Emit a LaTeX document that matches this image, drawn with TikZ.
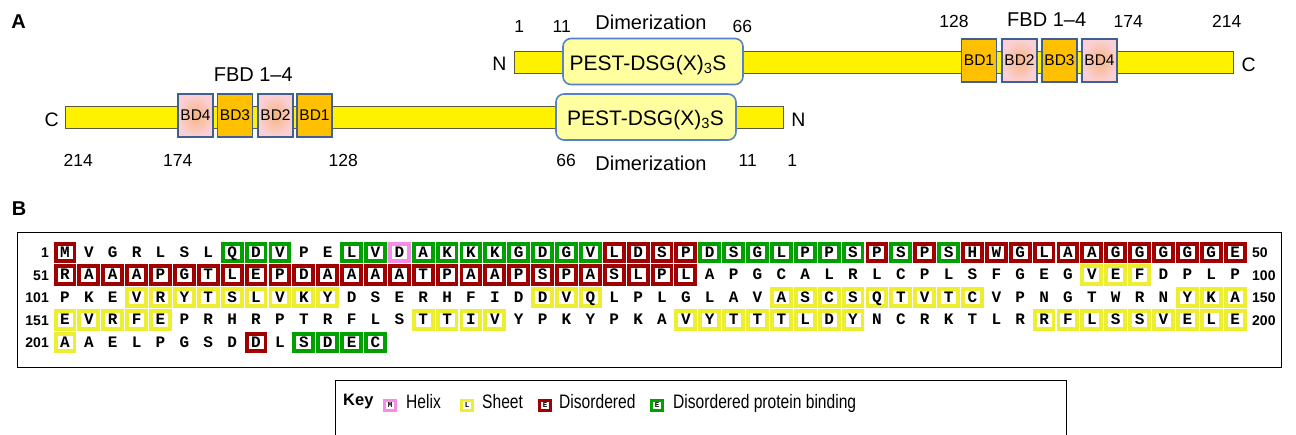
\documentclass[tikz,border=0pt]{standalone}
\usepackage{fontspec}
\setmainfont{Liberation Sans}
\newfontfamily\seqfont{Liberation Mono}
\newfontfamily\narrowfont[FakeStretch=0.8]{Liberation Sans}
\definecolor{cr}{RGB}{160,0,0}
\definecolor{cg}{RGB}{0,160,0}
\definecolor{cy}{RGB}{238,238,48}
\definecolor{cp}{RGB}{246,140,232}
\definecolor{pestblue}{RGB}{85,130,200}
\definecolor{pestfill}{RGB}{255,255,160}
\definecolor{bdblue}{RGB}{65,95,145}
\definecolor{bdorange}{RGB}{255,192,0}
\definecolor{bdpinkin}{RGB}{248,180,130}
\definecolor{bdpinkout}{RGB}{250,208,214}
\definecolor{barline}{RGB}{90,90,60}
\tikzset{
  lbl/.style={inner sep=0pt, anchor=base, font=\fontsize{20}{24}\selectfont},
  num/.style={inner sep=0pt, anchor=base, font=\fontsize{17.5}{20}\selectfont},
  term/.style={inner sep=0pt, anchor=base, font=\fontsize{19.5}{22}\selectfont},
  panel/.style={inner sep=0pt, anchor=base, font=\bfseries\fontsize{20}{24}\selectfont},
  bar/.style={draw=barline, line width=0.8pt, fill=yellow, minimum height=22pt, inner sep=0pt, anchor=west},
  pest/.style={draw=pestblue, line width=1.6pt, fill=pestfill, rounded corners=8pt, minimum width=180pt, minimum height=46pt, inner sep=0pt},
  pesttxt/.style={inner sep=0pt, anchor=base, font=\fontsize{21}{24}\selectfont},
  bdo/.style={draw=bdblue, line width=1.5pt, fill=bdorange, minimum width=35pt, minimum height=43pt, inner sep=0pt, font=\fontsize{15.5}{18}\selectfont},
  bdp/.style={bdo, inner color=bdpinkin, outer color=bdpinkout},
  res/.style={inner sep=0pt, minimum width=18.9pt, minimum height=17.6pt, text height=9.1pt, text depth=0pt, font=\seqfont\bfseries\fontsize{16}{16}\selectfont},
  resn/.style={res},
  resr/.style={res, draw=cr, line width=3.9pt, fill=white},
  resg/.style={res, draw=cg, line width=3.9pt, fill=white},
  resy/.style={res, draw=cy, line width=3.9pt, fill=white},
  resp/.style={res, draw=cp, line width=3.9pt, fill=white},
  rownum/.style={inner sep=0pt, text height=10pt, text depth=0pt, font=\bfseries\fontsize{14}{14}\selectfont},
  keyicon/.style={inner sep=0pt, minimum size=10.5pt, line width=3pt, fill=white, text height=4.5pt, text depth=0pt, font=\seqfont\bfseries\fontsize{7.5}{7.5}\selectfont},
  keytxt/.style={inner sep=0pt, anchor=base west, font=\narrowfont\fontsize{19.5}{21}\selectfont},
}
\begin{document}
\begin{tikzpicture}[x=1pt, y=-1pt]
\useasboundingbox (0,0) rectangle (1296,434);
% ---------------- Panel A ----------------
\node[panel] (labA) at (18.7,28) {A};
% upper chain N -> C
\node[bar, minimum width=719pt] (barU) at (514,62) {};
\node[pest] (pestU) at (653,61.5) {};
\node[pesttxt] (pestUt) at (648,70.5) {PEST-DSG(X)\textsubscript{3}S};
\node[bdo] (bd1U) at (979,60.5) {BD1};
\node[bdp] (bd2U) at (1019.5,60.5) {BD2};
\node[bdo] (bd3U) at (1059.5,60.5) {BD3};
\node[bdp] (bd4U) at (1099.5,60.5) {BD4};
\node[term] (nU) at (499.3,70) {N};
\node[term] (cU) at (1248.7,71) {C};
\node[num] (u1) at (519.3,32) {1};
\node[num] (u11) at (561.7,32) {11};
\node[lbl] (dimU) at (651,29) {Dimerization};
\node[num] (u66) at (742.3,32) {66};
\node[num] (u128) at (954,27) {128};
\node[lbl] (fbdU) at (1046.7,26) {FBD 1--4};
\node[num] (u174) at (1128.3,27) {174};
\node[num] (u214) at (1226.7,27) {214};
% lower chain C <- N
\node[bar, minimum width=718pt] (barL) at (65,117.5) {};
\node[pest] (pestL) at (646,117) {};
\node[pesttxt] (pestLt) at (645.5,125) {PEST-DSG(X)\textsubscript{3}S};
\node[bdp] (bd4L) at (195.5,115.5) {BD4};
\node[bdo] (bd3L) at (235,115.5) {BD3};
\node[bdp] (bd2L) at (275.5,115.5) {BD2};
\node[bdo] (bd1L) at (314.5,115.5) {BD1};
\node[term] (cL) at (51.7,126.7) {C};
\node[term] (nL) at (798.3,126) {N};
\node[lbl] (fbdL) at (253.3,81.7) {FBD 1--4};
\node[num] (l214) at (78.3,166.7) {214};
\node[num] (l174) at (177.7,166.7) {174};
\node[num] (l128) at (343.3,166.7) {128};
\node[num] (l66) at (566,166.7) {66};
\node[lbl] (dimL) at (651,170) {Dimerization};
\node[num] (l11) at (747.7,166.7) {11};
\node[num] (l1) at (792.3,166.7) {1};
% ---------------- Panel B ----------------
\node[panel] (labB) at (19,215) {B};
\node[draw, line width=1.2pt, anchor=north west, minimum width=1264pt, minimum height=135pt, inner sep=0pt] (seqbox) at (17,232) {};
% row 1
\foreach \ch/\c [count=\i from 0] in {M/r,V/n,G/n,R/n,L/n,S/n,L/n,Q/g,D/g,V/g,P/n,E/n,L/g,V/g,D/p,A/g,K/g,K/g,K/g,G/g,D/g,G/g,V/g,L/r,D/r,S/r,P/r,D/g,S/g,G/g,L/g,P/g,P/g,S/g,P/r,S/g,P/r,S/g,H/r,W/r,G/r,L/r,A/r,A/r,G/r,G/r,G/r,G/r,G/r,E/r}
  \node[res\c] (sa\i) at ({65+\i*23.88},252.5) {\ch};
% row 2
\foreach \ch/\c [count=\i from 0] in {R/r,A/r,A/r,A/r,P/r,G/r,T/r,L/r,E/r,P/r,D/r,A/r,A/r,A/r,A/r,T/r,P/r,A/r,A/r,P/r,S/r,P/r,A/r,S/r,L/r,P/r,L/r,A/n,P/n,G/n,C/n,A/n,L/n,R/n,L/n,C/n,P/n,L/n,S/n,F/n,G/n,E/n,G/n,V/y,E/y,F/y,D/n,P/n,L/n,P/n}
  \node[res\c] (sb\i) at ({65+\i*23.88},275) {\ch};
% row 3
\foreach \ch/\c [count=\i from 0] in {P/n,K/n,E/n,V/y,R/y,Y/y,T/y,S/y,L/y,V/y,K/y,Y/y,D/n,S/n,E/n,R/n,H/n,F/n,I/n,D/n,D/y,V/y,Q/y,L/n,P/n,L/n,G/n,L/n,A/n,V/n,A/y,S/y,C/y,S/y,Q/y,T/y,V/y,T/y,C/y,V/n,P/n,N/n,G/n,T/n,W/n,R/n,N/n,Y/y,K/y,A/y}
  \node[res\c] (sc\i) at ({65+\i*23.88},297.5) {\ch};
% row 4
\foreach \ch/\c [count=\i from 0] in {E/y,V/y,R/y,F/y,E/y,P/n,R/n,H/n,R/n,P/n,T/n,R/n,F/n,L/n,S/n,T/y,T/y,I/y,V/y,Y/n,P/n,K/n,Y/n,P/n,K/n,A/n,V/y,Y/y,T/y,T/y,T/y,L/y,D/y,Y/y,N/n,C/n,R/n,K/n,T/n,L/n,R/n,R/y,F/y,L/y,S/y,S/y,V/y,E/y,L/y,E/y}
  \node[res\c] (sd\i) at ({65+\i*23.88},320) {\ch};
% row 5
\foreach \ch/\c [count=\i from 0] in {A/y,A/n,E/n,L/n,P/n,G/n,S/n,D/n,D/r,L/n,S/g,D/g,E/g,C/g}
  \node[res\c] (se\i) at ({65+\i*23.88},342.5) {\ch};
% row numbers
\foreach \n/\yy [count=\k] in {1/252.5,51/275,101/297.5,151/320,201/342.5}
  \node[rownum, anchor=east] (rl\k) at (49,\yy) {\n};
\foreach \n/\yy [count=\k] in {50/252.5,100/275,150/297.5,200/320}
  \node[rownum, anchor=west] (rr\k) at (1252,\yy) {\n};
% ---------------- Key ----------------
\node[draw, line width=1.2pt, anchor=north west, minimum width=731pt, minimum height=70pt, inner sep=0pt] (keybox) at (335,380) {};
\node[inner sep=0pt, anchor=base west, font=\bfseries\fontsize{16.5}{18}\selectfont] (keyt) at (343,405) {Key};
\node[keyicon, draw=cp] (kh) at (390,405.5) {M};
\node[keytxt] (kht) at (406,408.3) {Helix};
\node[keyicon, draw=cy] (ks) at (467,405.5) {L};
\node[keytxt] (kst) at (482,408.3) {Sheet};
\node[keyicon, draw=cr] (kd) at (545,405.5) {E};
\node[keytxt] (kdt) at (559,408.3) {Disordered};
\node[keyicon, draw=cg] (kg) at (657,405.5) {E};
\node[keytxt] (kgt) at (673,408.3) {Disordered protein binding};
\end{tikzpicture}
\end{document}
